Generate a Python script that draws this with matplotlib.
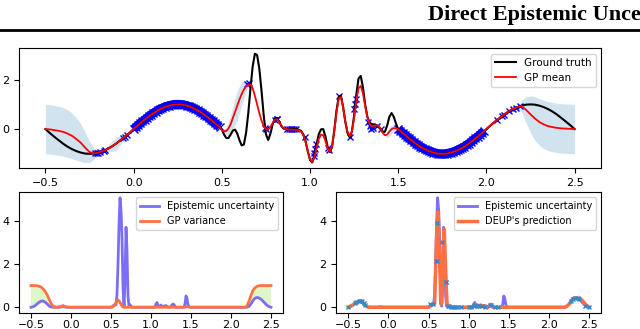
import numpy as np
import matplotlib
matplotlib.use("Agg")
import matplotlib.pyplot as plt
from matplotlib.lines import Line2D

# x grid: coarse on the outer parts, finer where the function wiggles / data is dense
x_grid = np.concatenate([-0.5 + 0.025 * np.arange(20),
                         0.0125 * np.arange(160),
                         2.0 + 0.025 * np.arange(21)])

ground_truth = [
    # -0.5 .. -0.025 (step 0.025)
    0.00, -0.16, -0.31, -0.45, -0.59, -0.71, -0.81, -0.89, -0.95, -0.99,
    -1.00, -0.99, -0.95, -0.89, -0.81, -0.71, -0.59, -0.45, -0.31, -0.16,
    # 0.0 .. 0.4875 (step 0.0125)
    0.00, 0.08, 0.16, 0.23, 0.31, 0.38, 0.45, 0.52, 0.59, 0.65,
    0.71, 0.76, 0.81, 0.85, 0.89, 0.92, 0.95, 0.97, 0.99, 1.00,
    1.00, 1.00, 0.99, 0.97, 0.95, 0.92, 0.89, 0.85, 0.81, 0.76,
    0.71, 0.65, 0.59, 0.52, 0.45, 0.38, 0.31, 0.23, 0.16, 0.08,
    # 0.5 .. 1.4875
    0.00, -0.22, -0.36, -0.36, -0.22, -0.06, -0.02, -0.18, -0.45, -0.66,
    -0.62, -0.15, 0.65, 1.65, 2.55, 3.05, 3.00, 2.45, 1.55, 0.55,
    -0.20, -0.44, -0.20, 0.18, 0.42, 0.45, 0.30, 0.12, 0.02, 0.00,
    0.00, 0.00, 0.00, 0.00, -0.01, -0.03, -0.08, -0.22, -0.50, -0.90,
    -1.25, -1.35, -1.10, -0.60, -0.20, -0.01, 0.00, -0.30, -0.72, -0.93,
    -0.72, -0.05, 0.75, 1.30, 1.35, 0.90, 0.30, -0.15, -0.33, -0.10,
    0.55, 1.40, 2.05, 2.15, 1.70, 1.00, 0.50, 0.27, 0.20, 0.18,
    0.17, 0.12, 0.00, -0.12, -0.10, 0.15, 0.50, 0.65, 0.50, 0.22,
    # 1.5 .. 1.9875
    0.00, -0.08, -0.16, -0.23, -0.31, -0.38, -0.45, -0.52, -0.59, -0.65,
    -0.71, -0.76, -0.81, -0.85, -0.89, -0.92, -0.95, -0.97, -0.99, -1.00,
    -1.00, -1.00, -0.99, -0.97, -0.95, -0.92, -0.89, -0.85, -0.81, -0.76,
    -0.71, -0.65, -0.59, -0.52, -0.45, -0.38, -0.31, -0.23, -0.16, -0.08,
    # 2.0 .. 2.5 (step 0.025)
    0.00, 0.16, 0.31, 0.45, 0.59, 0.71, 0.81, 0.89, 0.95, 0.99,
    1.00, 0.99, 0.95, 0.89, 0.81, 0.71, 0.59, 0.45, 0.31, 0.16, 0.00,
]

mean_left = [0.00, -0.01, -0.04, -0.07, -0.11, -0.18, -0.27, -0.40, -0.55, -0.75,
             -0.93, -0.99, -0.95, -0.89, -0.81, -0.71, -0.59, -0.45, -0.31, -0.16]
mean_mid = [
    -0.05, -0.08, -0.08, 0.02, 0.20, 0.45, 0.70, 0.95, 1.20, 1.42,
    1.60, 1.73, 1.80, 1.80, 1.65, 1.35, 1.00, 0.65, 0.35, 0.12,
    0.00, -0.02, 0.08, 0.25, 0.38, 0.40, 0.30, 0.15, 0.04, 0.00,
    -0.01, -0.02, -0.02, -0.02, -0.03, -0.05, -0.10, -0.25, -0.52, -0.90,
    -1.22, -1.33, -1.15, -0.75, -0.40, -0.22, -0.25, -0.48, -0.78, -0.92,
    -0.70, -0.10, 0.65, 1.22, 1.30, 0.90, 0.32, -0.10, -0.28, -0.10,
    0.45, 1.15, 1.65, 1.75, 1.45, 0.95, 0.50, 0.22, 0.12, 0.12,
    0.16, 0.14, 0.02, -0.15, -0.25, -0.22, -0.10, 0.00, 0.04, 0.02,
]
mean_right = [0.00, 0.16, 0.31, 0.45, 0.59, 0.71, 0.81, 0.89, 0.93, 0.78,
              0.60, 0.43, 0.29, 0.19, 0.12, 0.08, 0.05, 0.03, 0.02, 0.01, 0.00]
# GP mean sits on the ground truth where the data is dense
gp_mean = mean_left + ground_truth[20:60] + mean_mid + ground_truth[140:180] + mean_right

gp_variance = (
    [1.00, 1.00, 1.00, 0.99, 0.97, 0.93, 0.85, 0.74, 0.58, 0.38,
     0.18, 0.05, 0.01, 0.00, 0.01, 0.04, 0.08, 0.03, 0.01, 0.00]
    + [0.0] * 40
    + [0.00, 0.01, 0.03, 0.07, 0.14, 0.22, 0.30, 0.34, 0.30, 0.22, 0.13, 0.05, 0.01]
    + [0.0] * 62
    + [0.02, 0.04, 0.03, 0.01, 0.00]
    + [0.0] * 40
    + [0.0] * 8
    + [0.06, 0.28, 0.55, 0.78, 0.90, 0.96, 0.99, 1.00, 1.00, 1.00, 1.00, 1.00, 1.00]
)

epistemic = (
    [0.00, 0.02, 0.07, 0.15, 0.23, 0.28, 0.29, 0.24, 0.16, 0.06,
     0.01, 0.00, 0.00, 0.00, 0.00, 0.01, 0.03, 0.01, 0.00, 0.00]
    + [0.0] * 40
    + [0.00, 0.02, 0.06, 0.10, 0.10, 0.12, 0.60, 2.00, 3.80, 5.05,
       4.50, 3.20, 0.90, 0.05, 1.20, 3.69, 2.60, 0.50, 0.05, 0.12,
       0.04, 0.00, 0.00, 0.00, 0.00, 0.00, 0.00, 0.00, 0.00, 0.00,
       0.00, 0.00, 0.00, 0.00, 0.00, 0.00, 0.00, 0.00, 0.00, 0.00,
       0.00, 0.00, 0.00, 0.00, 0.02, 0.15, 0.22, 0.08, 0.02, 0.06,
       0.10, 0.03, 0.02, 0.06, 0.03, 0.08, 0.02, 0.00, 0.01, 0.00,
       0.03, 0.10, 0.15, 0.12, 0.03, 0.00, 0.00, 0.00, 0.00, 0.00,
       0.00, 0.00, 0.00, 0.01, 0.15, 0.52, 0.40, 0.12, 0.01, 0.00]
    + [0.0] * 40
    + [0.0] * 9
    + [0.04, 0.16, 0.31, 0.42, 0.45, 0.43, 0.37, 0.28, 0.18, 0.09, 0.03, 0.00]
)

# sparse observations outside the two dense blocks
train_x_sparse = [-0.22, -0.21, -0.20, -0.19, -0.17, -0.16, -0.06, -0.05, -0.04,
                  0.645, 0.655, 0.745, 0.75, 0.80, 0.81, 0.815,
                  0.87, 0.88, 0.89, 0.90, 0.91, 0.92, 0.97,
                  1.02, 1.025, 1.03, 1.035, 1.10, 1.105, 1.165, 1.225,
                  1.25, 1.255, 1.26, 1.33, 1.34, 1.345, 1.355, 1.38, 1.40,
                  2.06, 2.09, 2.10, 2.13, 2.15, 2.17, 2.19]
train_y_sparse = [-0.98, -0.97, -0.95, -0.93, -0.88, -0.85, -0.36, -0.30, -0.22,
                  1.82, 1.85, 0.05, 0.00, 0.38, 0.42, 0.40,
                  0.00, 0.00, 0.00, 0.00, 0.00, -0.01, -0.30,
                  -1.10, -0.95, -0.80, -0.60, -0.75, -0.85, 1.35, -0.32,
                  0.80, 1.00, 1.20, 0.30, 0.12, 0.02, 0.05, 0.14, 0.00,
                  0.37, 0.54, 0.59, 0.73, 0.81, 0.87, 0.94]

deup_x = [-0.5, -0.45, -0.4, -0.36, -0.33, -0.3, -0.27, -0.25, 0.0, 0.5,
          0.55, 0.575, 0.59, 0.605, 0.62, 0.635, 0.652, 0.665, 0.68, 0.695,
          0.71, 0.72, 0.73, 0.75, 0.78, 1.0, 1.06, 1.09, 1.12, 1.15,
          1.18, 1.21, 1.24, 1.28, 1.3, 2.2, 2.25, 2.3, 2.33, 2.38,
          2.42, 2.46, 2.5]
deup_y = [0.0, 0.1, 0.22, 0.28, 0.25, 0.12, 0.03, 0.0, 0.0, 0.0,
          0.12, 0.15, 2.0, 3.9, 4.4, 2.5, 0.15, 0.2, 2.5, 3.6,
          2.0, 1.0, 0.15, 0.05, 0.0, 0.0, 0.03, 0.12, 0.02, 0.1,
          0.02, 0.06, 0.0, 0.12, 0.0, 0.0, 0.12, 0.35, 0.42, 0.42,
          0.3, 0.12, 0.0]

deup_pts_x = [-0.5, -0.42, -0.40, -0.37, -0.35, -0.33, -0.31, -0.29,
              0.52, 0.55, 0.59, 0.60, 0.61, 0.665, 0.715, 0.72,
              0.74, 0.76, 0.78, 0.80, 0.83, 0.86, 0.90,
              1.00, 1.03, 1.06, 1.08, 1.10, 1.13, 1.16, 1.20, 1.26, 1.28, 1.33, 1.36,
              2.28, 2.30, 2.33, 2.36, 2.38, 2.45, 2.50]
deup_pts_y = [0.0, 0.18, 0.22, 0.27, 0.28, 0.27, 0.20, 0.12,
              0.15, 0.17, 2.15, 2.15, 3.9, 3.0, 1.18, 1.18,
              0.08, 0.05, 0.03, 0.02, 0.0, 0.0, 0.0,
              0.0, 0.02, 0.05, 0.10, 0.05, 0.08, 0.05, 0.03, 0.10, 0.12, 0.0, 0.0,
              0.30, 0.38, 0.42, 0.42, 0.40, 0.08, 0.0]

gt = np.array(ground_truth)
mean = np.array(gp_mean)
var = np.array(gp_variance)
epi = np.array(epistemic)
std = np.sqrt(var)
dense = ((x_grid >= 0) & (x_grid < 0.5)) | ((x_grid >= 1.5) & (x_grid < 2.0))
dense_line = np.where(dense, gt, np.nan)  # the many overlapping markers form a band

BLUE_LINE = '#7b6ef6'
ORANGE = '#ff7043'
xticks = [-0.5, 0.0, 0.5, 1.0, 1.5, 2.0, 2.5]

fig = plt.figure(figsize=(6.4, 3.29), dpi=100)

# header of the paper page
fig.text(428 / 640, 1 - 20 / 329, "Direct Epistemic Uncertainty Prediction",
         fontfamily='Liberation Serif', fontweight='bold', fontsize=16,
         ha='left', va='baseline')
fig.add_artist(Line2D([0, 1], [1 - 30 / 329] * 2, color='black', lw=2,
                      transform=fig.transFigure))

# top: GP fit
ax = fig.add_axes([0.0297, 0.4884, 0.9094, 0.3647])
ax.fill_between(x_grid, mean - std, mean + std, color='tab:blue', alpha=0.2, lw=0)
ax.plot(x_grid, dense_line, color='blue', lw=6.5, solid_capstyle='butt')
ax.plot(x_grid[dense], gt[dense], 'x', color='blue', ms=6, mew=1)
ax.plot(train_x_sparse, train_y_sparse, 'x', color='blue', ms=4, mew=1)
ax.plot(x_grid, gt, color='black', lw=1.5, label='Ground truth')
ax.plot(x_grid, mean, color='red', lw=1.3, label='GP mean')
ax.set_xticks(xticks)
ax.set_yticks([0, 2])
ax.tick_params(labelsize=8)
ax.legend(loc='upper right', fontsize=7.5)

# bottom left: epistemic uncertainty vs GP variance
ax2 = fig.add_axes([0.0297, 0.0495, 0.4125, 0.366])
ax2.fill_between(x_grid, epi, var, where=var >= epi, interpolate=True,
                 color='#ddf7c8', lw=0)
ax2.plot(x_grid, epi, color=BLUE_LINE, lw=2, label='Epistemic uncertainty')
ax2.plot(x_grid, var, color=ORANGE, lw=2, label='GP variance')
ax2.set_xticks(xticks)
ax2.set_yticks([0, 2, 4])
ax2.tick_params(labelsize=8)
ax2.tick_params(axis='x', pad=1.5)
ax2.legend(loc='upper right', fontsize=7)

# bottom right: epistemic uncertainty vs DEUP
ax3 = fig.add_axes([0.5255, 0.0495, 0.4137, 0.366])
ax3.plot(x_grid, epi, color=BLUE_LINE, lw=2, label='Epistemic uncertainty')
ax3.plot(deup_x, deup_y, color=ORANGE, lw=2.5, label="DEUP's prediction")
ax3.plot(deup_pts_x, deup_pts_y, 'x', color='#3a87c8', ms=3.5, mew=1)
ax3.set_xticks(xticks)
ax3.set_yticks([0, 2, 4])
ax3.tick_params(labelsize=8)
ax3.tick_params(axis='x', pad=1.5)
ax3.legend(loc='upper right', fontsize=7)

fig.savefig('out.png', dpi=100)
